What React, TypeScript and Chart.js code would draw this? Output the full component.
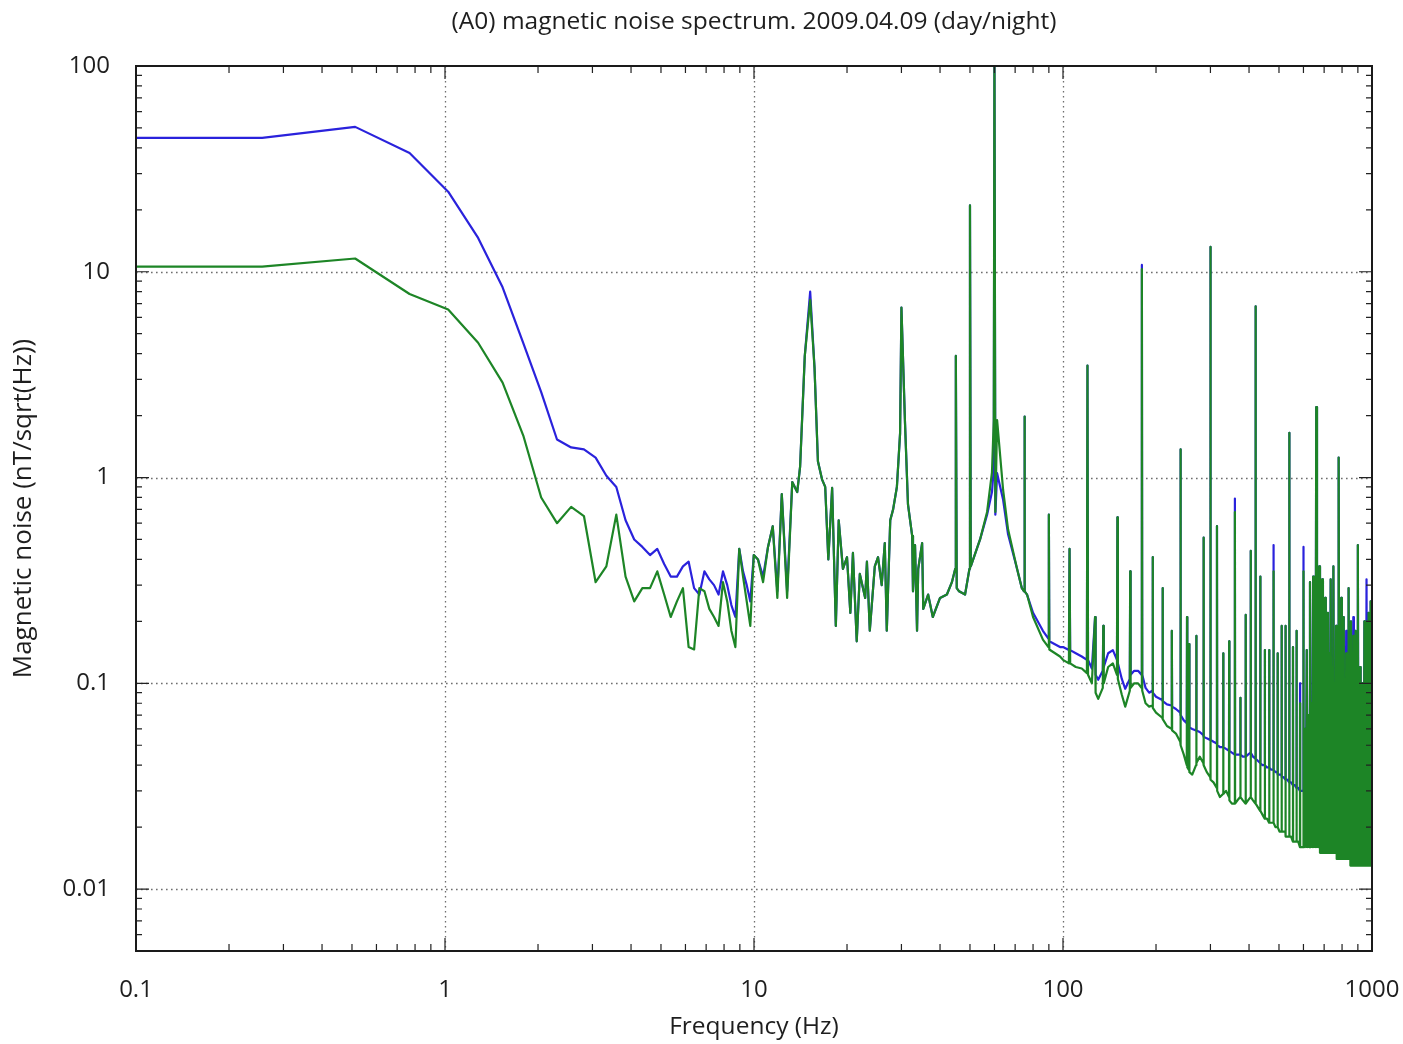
import React, { useEffect, useRef } from "react";
import { Chart, registerables } from "chart.js";

Chart.register(...registerables);

// ---------- Data ----------
// 0.1 - 10 Hz (FFT bins, 0.256 Hz resolution)
const lowFreqHz = [
  0.1, 0.256, 0.512, 0.768, 1.024, 1.28, 1.536, 1.792, 2.048, 2.304, 2.56, 2.816, 3.072, 3.328,
  3.584, 3.84, 4.096, 4.352, 4.608, 4.864, 5.12, 5.376, 5.632, 5.888, 6.144, 6.4, 6.656, 6.912,
  7.168, 7.424, 7.68, 7.936, 8.192, 8.448, 8.704, 8.96, 9.216, 9.472, 9.728, 9.984,
];
const lowDay = [
  44.7, 44.7, 50.6, 37.8, 24.5, 14.6, 8.4, 4.5, 2.6, 1.53, 1.4, 1.37, 1.25, 1.02,
  0.9, 0.62, 0.5, 0.46, 0.42, 0.45, 0.38, 0.33, 0.33, 0.37, 0.39, 0.29, 0.27, 0.35,
  0.32, 0.3, 0.27, 0.35, 0.3, 0.24, 0.21, 0.45, 0.35, 0.3, 0.25, 0.42,
];
const lowNight = [
  10.6, 10.6, 11.6, 7.8, 6.55, 4.52, 2.89, 1.6, 0.8, 0.6, 0.72, 0.65, 0.31, 0.37,
  0.66, 0.33, 0.25, 0.29, 0.29, 0.35, 0.27, 0.21, 0.25, 0.29, 0.15, 0.146, 0.29, 0.28,
  0.23, 0.21, 0.19, 0.31, 0.25, 0.18, 0.15, 0.45, 0.33, 0.25, 0.19, 0.42,
];

// 10 - 100 Hz
const midFreqHz = [
  10.3, 10.7, 11.1, 11.5, 11.9, 12.3, 12.8, 13.3, 13.8, 14.1, 14.6, 15.2, 15.7, 16.1, 16.6, 17.0,
  17.4, 17.9, 18.4, 18.8, 19.4, 20.0, 20.5, 20.9, 21.5, 22.0, 22.9, 23.2, 23.7, 24.6, 25.2, 25.9,
  26.5, 26.9, 27.6, 28.2, 29.0, 29.7, 30.0, 30.8, 31.5, 32.5, 32.7, 33.2, 33.7, 34.0, 35.0, 35.3,
  36.6, 37.9, 40.0, 42.1, 43.7, 44.8, 45.0, 45.3, 46.1, 48.2, 49.8, 50.0, 50.3, 53.9, 56.8, 58.9,
  59.7, 60.0, 60.4, 61.2, 64.0, 66.4, 71.0, 73.6, 74.8, 75.0, 75.3, 76.5, 80.0, 86.1, 89.7, 90.0,
  90.3, 97.8,
];
const midDay = [
  0.4, 0.33, 0.46, 0.58, 0.28, 0.83, 0.28, 0.95, 0.85, 1.13, 3.9, 8.0, 3.4, 1.2, 0.98, 0.9,
  0.4, 0.89, 0.19, 0.62, 0.36, 0.41, 0.22, 0.43, 0.16, 0.34, 0.26, 0.39, 0.18, 0.37, 0.41, 0.3,
  0.48, 0.18, 0.62, 0.7, 0.9, 1.64, 6.7, 1.87, 0.74, 0.52, 0.28, 0.47, 0.18, 0.36, 0.48, 0.23,
  0.27, 0.21, 0.26, 0.27, 0.31, 0.36, 3.9, 0.29, 0.28, 0.27, 0.36, 21, 0.37, 0.5, 0.66, 0.85,
  1.1, 120, 0.66, 1.05, 0.78, 0.53, 0.36, 0.29, 0.28, 1.98, 0.28, 0.27, 0.22, 0.18, 0.165, 0.66,
  0.16, 0.15,
];
const midNight = [
  0.4, 0.31, 0.46, 0.58, 0.26, 0.83, 0.26, 0.95, 0.85, 1.13, 3.9, 7.3, 3.4, 1.2, 0.98, 0.9,
  0.4, 0.89, 0.19, 0.62, 0.36, 0.41, 0.22, 0.43, 0.16, 0.34, 0.26, 0.39, 0.18, 0.37, 0.41, 0.3,
  0.48, 0.18, 0.62, 0.7, 0.9, 1.64, 6.7, 1.87, 0.74, 0.52, 0.28, 0.47, 0.18, 0.36, 0.48, 0.23,
  0.27, 0.21, 0.26, 0.27, 0.31, 0.36, 3.9, 0.29, 0.28, 0.27, 0.36, 21, 0.37, 0.5, 0.68, 1.06,
  1.9, 120, 0.68, 1.9, 0.87, 0.56, 0.36, 0.29, 0.28, 1.98, 0.28, 0.27, 0.21, 0.163, 0.15, 0.66,
  0.146, 0.135,
];

// 100 - 300 Hz
const highFreqHz = [
  100, 104.5, 105, 105.5, 110, 115, 119.5, 120, 120.5, 124, 127, 127.5, 130, 134.5, 135, 135.5,
  140, 145, 149.5, 150, 150.5, 155, 159, 164.5, 165, 165.5, 170, 175, 179.5, 180, 180.5, 185,
  190, 194.5, 195, 195.5, 200, 209.5, 210, 210.5, 217, 224.5, 225, 225.5, 232, 239.5, 240, 240.5,
  246, 251.5, 252, 252.5, 255.5, 256, 256.5, 262, 269.5, 270, 270.5, 277, 284.5, 285, 285.5, 292,
  299.5, 300, 300.5,
];
const highDay = [
  0.15, 0.145, 0.45, 0.145, 0.14, 0.135, 0.13, 3.5, 0.13, 0.118, 0.21, 0.11, 0.104, 0.115, 0.19, 0.12,
  0.14, 0.145, 0.13, 0.64, 0.125, 0.105, 0.094, 0.105, 0.35, 0.11, 0.115, 0.115, 0.11, 10.8, 0.11, 0.095,
  0.09, 0.092, 0.41, 0.09, 0.086, 0.083, 0.29, 0.082, 0.079, 0.078, 0.18, 0.077, 0.075, 0.072, 1.37, 0.07,
  0.066, 0.064, 0.21, 0.063, 0.062, 0.155, 0.061, 0.06, 0.059, 0.17, 0.059, 0.058, 0.056, 0.51, 0.055, 0.054,
  0.053, 13.2, 0.053,
];
const highNight = [
  0.13, 0.125, 0.45, 0.125, 0.12, 0.118, 0.112, 3.5, 0.11, 0.1, 0.21, 0.09, 0.084, 0.095, 0.19, 0.1,
  0.12, 0.125, 0.11, 0.64, 0.105, 0.088, 0.077, 0.092, 0.35, 0.095, 0.1, 0.1, 0.095, 10.3, 0.092, 0.08,
  0.077, 0.078, 0.41, 0.076, 0.072, 0.068, 0.29, 0.067, 0.062, 0.06, 0.18, 0.059, 0.057, 0.052, 1.37, 0.05,
  0.045, 0.04, 0.21, 0.039, 0.038, 0.155, 0.037, 0.036, 0.04, 0.17, 0.041, 0.044, 0.041, 0.51, 0.04, 0.037,
  0.035, 13.2, 0.034,
];

// 300 - 600 Hz (15 Hz harmonic comb)
const combFreqHz = [
  307, 314.5, 315, 315.5, 322, 329.5, 330, 330.5, 337, 344.5, 345, 345.5, 352, 359.5, 360, 360.5,
  367, 374.5, 375, 375.5, 382, 389.5, 390, 390.5, 397, 404.5, 405, 405.5, 412, 419.5, 420, 420.5,
  427, 434.5, 435, 435.5, 442, 449.5, 450, 450.5, 457, 464.5, 465, 465.5, 472, 479.5, 480, 480.5,
  487, 494.5, 495, 495.5, 502, 509.5, 510, 510.5, 517, 524.5, 525, 525.5, 532, 539.5, 540, 540.5,
  547, 554.5, 555, 555.5, 562, 569.5, 570, 570.5, 577, 584.5, 585, 585.5, 592, 599.5, 600, 600.5,
];
const combDay = [
  0.052, 0.051, 0.58, 0.05, 0.049, 0.049, 0.14, 0.049, 0.048, 0.047, 0.16, 0.047, 0.046, 0.045, 0.79, 0.045,
  0.045, 0.045, 0.085, 0.045, 0.044, 0.044, 0.215, 0.044, 0.045, 0.046, 0.44, 0.046, 0.044, 0.043, 6.8, 0.043,
  0.042, 0.041, 0.33, 0.041, 0.04, 0.04, 0.145, 0.04, 0.039, 0.039, 0.145, 0.039, 0.038, 0.038, 0.47, 0.038,
  0.037, 0.037, 0.14, 0.036, 0.036, 0.036, 0.19, 0.035, 0.035, 0.034, 0.19, 0.034, 0.034, 0.033, 1.65, 0.033,
  0.033, 0.032, 0.15, 0.032, 0.032, 0.031, 0.18, 0.031, 0.031, 0.03, 0.1, 0.03, 0.03, 0.03, 0.46, 0.03,
];
const combNight = [
  0.033, 0.031, 0.58, 0.03, 0.028, 0.029, 0.14, 0.029, 0.03, 0.028, 0.16, 0.027, 0.026, 0.026, 0.68, 0.026,
  0.027, 0.028, 0.085, 0.028, 0.027, 0.026, 0.215, 0.026, 0.027, 0.028, 0.44, 0.028, 0.027, 0.026, 6.8, 0.026,
  0.025, 0.024, 0.33, 0.024, 0.023, 0.022, 0.145, 0.022, 0.022, 0.021, 0.145, 0.021, 0.021, 0.021, 0.35, 0.021,
  0.02, 0.02, 0.14, 0.02, 0.019, 0.019, 0.19, 0.019, 0.019, 0.019, 0.19, 0.018, 0.018, 0.018, 1.65, 0.018,
  0.018, 0.017, 0.15, 0.017, 0.017, 0.017, 0.18, 0.017, 0.017, 0.016, 0.08, 0.016, 0.016, 0.016, 0.35, 0.016,
];

// 600 - 1000 Hz (dense comb: floor, line, floor, line ...)
const denseFreqHz = [
  603.75, 607.5, 611.25, 615, 618.75, 622.5, 626.25, 630, 633.75, 637.5, 641.25, 645, 648.75, 652.5,
  656.25, 660, 663.75, 667.5, 671.25, 675, 678.75, 682.5, 686.25, 690, 693.75, 697.5, 701.25, 705,
  708.75, 712.5, 716.25, 720, 723.75, 727.5, 731.25, 735, 738.75, 742.5, 746.25, 750, 753.75, 757.5,
  761.25, 765, 768.75, 772.5, 776.25, 780, 783.75, 787.5, 791.25, 795, 798.75, 802.5, 806.25, 810,
  813.75, 817.5, 821.25, 825, 828.75, 832.5, 836.25, 840, 843.75, 847.5, 851.25, 855, 858.75, 862.5,
  866.25, 870, 873.75, 877.5, 881.25, 885, 888.75, 892.5, 896.25, 900, 903.75, 907.5, 911.25, 915,
  918.75, 922.5, 926.25, 930, 933.75, 937.5, 941.25, 945, 948.75, 952.5, 956.25, 960, 963.75, 967.5,
  971.25, 975, 978.75, 982.5, 986.25, 990, 993.75, 997.5, 1000,
];
const denseDay = [
  0.03, 0.06, 0.03, 0.145, 0.029, 0.07, 0.029, 0.31, 0.029, 0.08, 0.029, 0.33, 0.028, 0.09,
  0.028, 2.2, 0.028, 0.12, 0.028, 0.37, 0.028, 0.1, 0.027, 0.32, 0.027, 0.13, 0.027, 0.26,
  0.027, 0.11, 0.027, 0.22, 0.026, 0.14, 0.026, 0.32, 0.026, 0.12, 0.026, 0.37, 0.026, 0.1,
  0.025, 0.19, 0.025, 0.13, 0.025, 1.25, 0.025, 0.11, 0.025, 0.26, 0.025, 0.12, 0.024, 0.21,
  0.024, 0.1, 0.024, 0.18, 0.024, 0.12, 0.024, 0.29, 0.024, 0.1, 0.024, 0.2, 0.023, 0.11,
  0.023, 0.21, 0.023, 0.09, 0.023, 0.18, 0.023, 0.09, 0.023, 0.47, 0.023, 0.1, 0.022, 0.12,
  0.022, 0.09, 0.022, 0.1, 0.022, 0.08, 0.022, 0.2, 0.022, 0.09, 0.022, 0.32, 0.022, 0.08,
  0.022, 0.22, 0.022, 0.07, 0.022, 0.25, 0.022, 0.08, 0.15,
];
const denseNight = [
  0.016, 0.06, 0.016, 0.145, 0.016, 0.07, 0.016, 0.31, 0.016, 0.08, 0.016, 0.33, 0.016, 0.09,
  0.016, 2.2, 0.016, 0.12, 0.016, 0.37, 0.015, 0.1, 0.015, 0.32, 0.015, 0.13, 0.015, 0.26,
  0.015, 0.11, 0.015, 0.22, 0.015, 0.14, 0.015, 0.32, 0.015, 0.12, 0.015, 0.37, 0.015, 0.1,
  0.015, 0.19, 0.014, 0.13, 0.014, 1.25, 0.014, 0.11, 0.014, 0.26, 0.014, 0.12, 0.014, 0.21,
  0.014, 0.1, 0.014, 0.14, 0.014, 0.12, 0.014, 0.29, 0.014, 0.1, 0.013, 0.2, 0.013, 0.11,
  0.013, 0.17, 0.013, 0.09, 0.013, 0.18, 0.013, 0.09, 0.013, 0.47, 0.013, 0.1, 0.013, 0.12,
  0.013, 0.09, 0.013, 0.1, 0.013, 0.08, 0.013, 0.2, 0.013, 0.09, 0.013, 0.2, 0.013, 0.08,
  0.013, 0.22, 0.013, 0.07, 0.013, 0.25, 0.013, 0.08, 0.15,
];

// Axis ticks and texts
const xTickValues = [0.1, 1, 10, 100, 1000];
const yTickValues = [100, 10, 1, 0.1, 0.01];
const chartTitle = "(A0) magnetic noise spectrum. 2009.04.09 (day/night)";
const xAxisTitle = "Frequency (Hz)";
const yAxisTitle = "Magnetic noise (nT/sqrt(Hz))";
const seriesLabels = ["day", "night"];

const X_MIN = 0.1;
const X_MAX = 1000;
const Y_MIN = 0.005;
const Y_MAX = 100;

const FONT = '"Open Sans", "DejaVu Sans", sans-serif';
const TEXT_COLOR = "#1e1e1e";
const DAY_COLOR = "#2a22dc";
const NIGHT_COLOR = "#1d8526";

const W = 1403;
const H = 1044;
const PLOT_LEFT = 136;
const PLOT_RIGHT = 1372;
const PLOT_TOP = 66;
const PLOT_BOTTOM = 951;

function minorValues(min: number, max: number): number[] {
  const out: number[] = [];
  for (let e = -4; e <= 3; e++) {
    for (let k = 2; k <= 9; k++) {
      const v = k * Math.pow(10, e);
      if (v > min * 1.0001 && v < max * 0.9999) out.push(v);
    }
  }
  return out;
}

const gnuplotFrame = {
  id: "gnuplotFrame",
  beforeDatasetsDraw(chart: any) {
    const { ctx, chartArea: a, scales } = chart;
    const xs = scales.x;
    const ys = scales.y;
    ctx.save();
    ctx.strokeStyle = "#6e6e6e";
    ctx.lineWidth = 1.3;
    ctx.setLineDash([1.6, 3.4]);
    ctx.beginPath();
    for (const v of xTickValues) {
      if (v <= X_MIN || v >= X_MAX) continue;
      const px = Math.round(xs.getPixelForValue(v)) + 0.5;
      ctx.moveTo(px, a.top);
      ctx.lineTo(px, a.bottom);
    }
    for (const v of yTickValues) {
      if (v <= Y_MIN || v >= Y_MAX) continue;
      const py = Math.round(ys.getPixelForValue(v)) + 0.5;
      ctx.moveTo(a.left, py);
      ctx.lineTo(a.right, py);
    }
    ctx.stroke();
    ctx.restore();
  },
  afterDatasetsDraw(chart: any) {
    const { ctx, chartArea: a, scales } = chart;
    const xs = scales.x;
    const ys = scales.y;
    ctx.save();
    ctx.setLineDash([]);
    ctx.strokeStyle = "#222";
    ctx.lineWidth = 1.2;
    ctx.beginPath();
    const majorLen = 13;
    const xMinorLen = 7;
    const yMinorLen = 6;
    for (const v of xTickValues) {
      const px = xs.getPixelForValue(v);
      ctx.moveTo(px, a.bottom);
      ctx.lineTo(px, a.bottom - majorLen);
      ctx.moveTo(px, a.top);
      ctx.lineTo(px, a.top + majorLen);
    }
    for (const v of minorValues(X_MIN, X_MAX)) {
      const px = xs.getPixelForValue(v);
      ctx.moveTo(px, a.bottom);
      ctx.lineTo(px, a.bottom - xMinorLen);
      ctx.moveTo(px, a.top);
      ctx.lineTo(px, a.top + xMinorLen);
    }
    for (const v of yTickValues) {
      const py = ys.getPixelForValue(v);
      ctx.moveTo(a.left, py);
      ctx.lineTo(a.left + majorLen, py);
      ctx.moveTo(a.right, py);
      ctx.lineTo(a.right - majorLen, py);
    }
    for (const v of minorValues(Y_MIN, Y_MAX)) {
      const py = ys.getPixelForValue(v);
      ctx.moveTo(a.left, py);
      ctx.lineTo(a.left + yMinorLen, py);
      ctx.moveTo(a.right, py);
      ctx.lineTo(a.right - yMinorLen, py);
    }
    ctx.stroke();

    ctx.lineWidth = 2;
    ctx.strokeStyle = "#1a1a1a";
    ctx.strokeRect(a.left, a.top, a.right - a.left, a.bottom - a.top);

    // texts
    ctx.fillStyle = TEXT_COLOR;
    ctx.textAlign = "center";
    ctx.textBaseline = "middle";
    const cx = (a.left + a.right) / 2;
    ctx.font = `24.5px ${FONT}`;
    ctx.fillText(chartTitle, cx, 22);
    ctx.fillText(xAxisTitle, cx, 1027);
    ctx.save();
    ctx.font = `26px ${FONT}`;
    ctx.translate(24, (a.top + a.bottom) / 2);
    ctx.rotate(-Math.PI / 2);
    ctx.fillText(yAxisTitle, 0, 0);
    ctx.restore();
    ctx.restore();
  },
};

function toPoints(freqs: number[], values: number[]) {
  return freqs.map((f, i) => ({ x: f, y: values[i] }));
}

export default function App() {
  const canvasRef = useRef<HTMLCanvasElement | null>(null);

  useEffect(() => {
    document.body.style.margin = "0";
    const canvas = canvasRef.current;
    if (!canvas) return;

    const allFreq = [...lowFreqHz, ...midFreqHz, ...highFreqHz, ...combFreqHz, ...denseFreqHz];
    const allDay = [...lowDay, ...midDay, ...highDay, ...combDay, ...denseDay];
    const allNight = [...lowNight, ...midNight, ...highNight, ...combNight, ...denseNight];

    const chart = new Chart(canvas, {
      type: "line",
      data: {
        datasets: [
          {
            label: seriesLabels[1],
            data: toPoints(allFreq, allNight),
            borderColor: NIGHT_COLOR,
            borderWidth: 2.2,
            pointRadius: 0,
            tension: 0,
            fill: false,
            borderJoinStyle: "round",
            order: 0,
          },
          {
            label: seriesLabels[0],
            data: toPoints(allFreq, allDay),
            borderColor: DAY_COLOR,
            borderWidth: 2.2,
            pointRadius: 0,
            tension: 0,
            fill: false,
            borderJoinStyle: "round",
            order: 1,
          },
        ],
      },
      options: {
        animation: false,
        responsive: false,
        devicePixelRatio: 1,
        events: [],
        layout: { padding: { top: PLOT_TOP, right: W - PLOT_RIGHT, left: 0, bottom: 0 } },
        plugins: {
          legend: { display: false },
          tooltip: { enabled: false },
          title: { display: false },
        },
        scales: {
          x: {
            type: "logarithmic",
            min: X_MIN,
            max: X_MAX,
            grid: { display: false },
            border: { display: false },
            afterBuildTicks: (scale: any) => {
              scale.ticks = xTickValues.map((v) => ({ value: v }));
            },
            afterFit: (scale: any) => {
              scale.height = H - PLOT_BOTTOM;
              scale.paddingLeft = 0;
              scale.paddingRight = 0;
            },
            ticks: {
              autoSkip: false,
              maxRotation: 0,
              padding: 17,
              color: TEXT_COLOR,
              font: { family: FONT, size: 24 },
              callback: (v: any) => String(v),
            },
          },
          y: {
            type: "logarithmic",
            min: Y_MIN,
            max: Y_MAX,
            grid: { display: false },
            border: { display: false },
            afterBuildTicks: (scale: any) => {
              scale.ticks = yTickValues.map((v) => ({ value: v }));
            },
            afterFit: (scale: any) => {
              scale.width = PLOT_LEFT;
              scale.paddingTop = 0;
              scale.paddingBottom = 0;
            },
            ticks: {
              autoSkip: false,
              padding: 18,
              color: TEXT_COLOR,
              font: { family: FONT, size: 24 },
              callback: (v: any) => String(v),
            },
          },
        },
      },
      plugins: [gnuplotFrame],
    } as any);

    return () => chart.destroy();
  }, []);

  return (
    <div style={{ width: W, height: H, background: "#fff" }}>
      <canvas ref={canvasRef} width={W} height={H} style={{ display: "block" }} />
    </div>
  );
}
